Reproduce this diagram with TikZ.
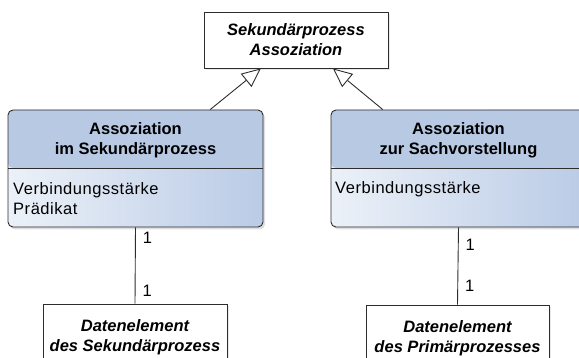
\documentclass[tikz,border=0pt]{standalone}
\usepackage{fontspec}
\setmainfont{Liberation Sans}
\usetikzlibrary{arrows.meta,shadows,calc}
\definecolor{headblue}{RGB}{184,201,228}
\definecolor{bodylight}{RGB}{236,241,248}
\definecolor{bodyblue}{RGB}{186,203,230}
\definecolor{edgegray}{RGB}{45,45,45}
\newcommand\widetext{\fontsize{16.5}{20}\selectfont\addfontfeature{LetterSpace=3.3}}
\tikzset{
  every node/.style={font=\fontsize{16.5}{20}\selectfont},
  plainbox/.style={draw=edgegray, line width=0.9pt, fill=white, align=center,
    font=\fontsize{16.5}{20}\selectfont\bfseries\itshape,
    drop shadow={opacity=0.18, shadow xshift=2pt, shadow yshift=-2.5pt}},
  classbox/.style={draw=edgegray, line width=0.9pt, rounded corners=5pt,
    minimum width=255pt, minimum height=117pt, inner sep=0pt,
    drop shadow={opacity=0.25, shadow xshift=2pt, shadow yshift=-2.5pt},
    path picture={
      \shade[shading angle=235, left color=bodylight, right color=bodyblue]
        (path picture bounding box.south west) rectangle (path picture bounding box.north east);
      \fill[headblue] (path picture bounding box.north west) rectangle
        ([yshift=-58pt]path picture bounding box.north east);
      \draw[edgegray, line width=0.9pt] ([yshift=-58pt]path picture bounding box.north west) --
        ([yshift=-58pt]path picture bounding box.north east);
    }},
  classtitle/.style={align=center, inner sep=0pt, font=\fontsize{16.5}{20}\selectfont\bfseries},
  attrs/.style={align=left, inner sep=0pt, anchor=north west, font=\widetext},
  link/.style={draw=edgegray, line width=0.9pt},
  inherit/.style={draw=edgegray, line width=0.9pt,
    -{Triangle[open, length=19pt, width=17pt, fill=white]}},
  mult/.style={anchor=west, inner sep=0pt, xshift=7pt, font=\widetext}
}
\begin{document}
\begin{tikzpicture}[x=1pt, y=-1pt]
\useasboundingbox (0,0) rectangle (579,358);
\begin{scope}
\clip (0,0) rectangle (579,358);

% general association
\node[plainbox, minimum width=184pt, minimum height=56pt] (top) at (296,40)
  {Sekundärprozess\\Assoziation};

% the two association classes
\node[classbox] (lc) at (135.5,168.5) {};
\node[classtitle] (lct) at (135.5,140) {Assoziation\\im Sekundärprozess};
\node[attrs] (lca) at (13,182) {Verbindungsstärke\\Prädikat};

\node[classbox] (rc) at (458.5,168.5) {};
\node[classtitle] (rct) at (458.5,140) {Assoziation\\zur Sachvorstellung};
\node[attrs] (rca) at (335,181) {Verbindungsstärke};

% data elements
\node[plainbox, minimum width=184pt, minimum height=66pt] (ld) at (135,337)
  {Datenelement\\des Sekundärprozess};
\node[plainbox, minimum width=183pt, minimum height=66pt] (rd) at (457.5,338)
  {Datenelement\\des Primärprozesses};

% generalisations
\draw[inherit] ($(lc.north west)!0.792!(lc.north east)$) -- ($(top.south west)!0.31!(top.south east)$);
\draw[inherit] ($(rc.north west)!0.204!(rc.north east)$) -- ($(top.south west)!0.70!(top.south east)$);

% one-to-one links
\draw[link] (lc.south) -- (ld.north)
  node[mult, pos=0.13] (lm1) {1}
  node[mult, pos=0.83] (lm2) {1};
\draw[link] (rc.south) -- (rd.north)
  node[mult, pos=0.23] (rm1) {1}
  node[mult, pos=0.76] (rm2) {1};
\end{scope}
\end{tikzpicture}
\end{document}
